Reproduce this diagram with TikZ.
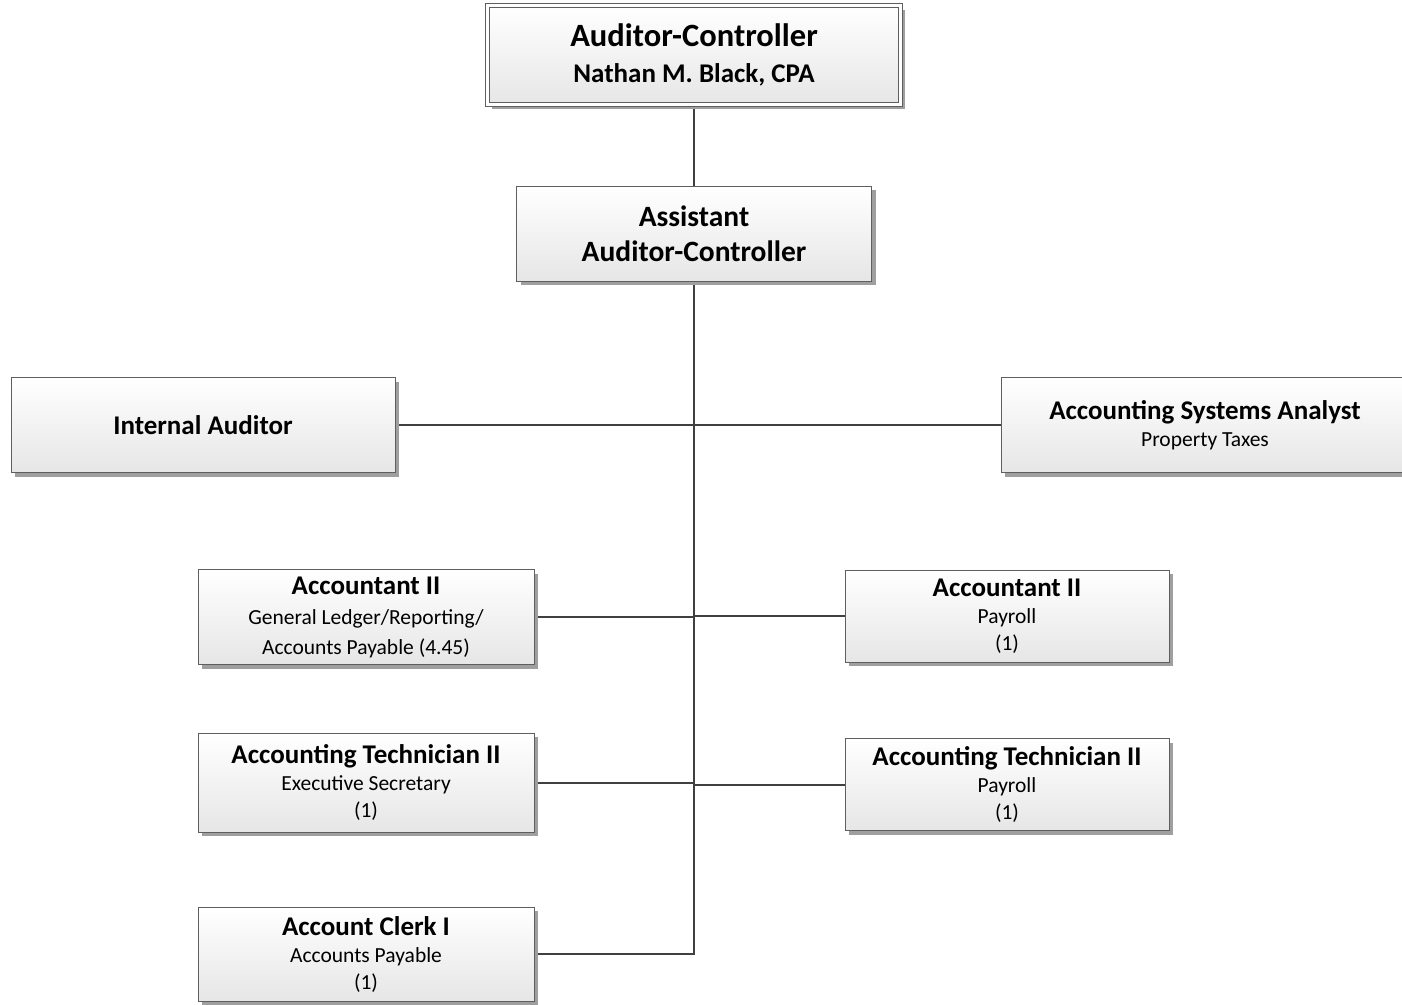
\documentclass[tikz,border=0pt]{standalone}
\usepackage{fontspec}
\setmainfont{Carlito}
\usepackage{tikz}
\usetikzlibrary{positioning, shadows, backgrounds}
\definecolor{linkgray}{HTML}{404040}
\definecolor{boxgray}{HTML}{5F5F5F}
\definecolor{shadegray}{HTML}{E6E6E6}
\newcommand{\ttl}[1]{{\bfseries\fontsize{27}{28}\selectfont #1}}

\begin{document}
\begin{tikzpicture}[
        x=1pt, y=-1pt,
        box/.style={draw=boxgray, line width=0.8pt, rectangle, inner sep=0pt, align=center,
            top color=white, bottom color=shadegray,
            drop shadow={shadow xshift=4pt, shadow yshift=-4pt, fill=gray!75, opacity=1},
            font=\fontsize{21.5}{27}\selectfont},
        wide/.style={box, minimum width=336pt, minimum height=95pt},
        narrow/.style={box, minimum width=324pt, minimum height=92pt},
        link/.style={draw=linkgray, line width=2pt}
    ]
        \useasboundingbox (0,0) rectangle (1402,1004);

        % Top
        \node[box, double=white, double distance=3pt, minimum width=413pt, minimum height=99pt,
              font=\bfseries\fontsize{27}{36}\selectfont] (ac) at (694,55)
            {{\fontsize{32.5}{36}\selectfont Auditor-Controller}\\ Nathan M. Black, CPA};
        \node[box, below=81pt of ac, minimum width=355pt, minimum height=95pt,
              font=\bfseries\fontsize{29.5}{35}\selectfont] (asst)
            {Assistant\\ Auditor-Controller};

        % Staff row
        \node[box, minimum width=384pt, minimum height=95pt] (ia) at (203,425) {\ttl{Internal Auditor}};
        \node[box, minimum width=408pt, minimum height=95pt] (asa) at (1205,425)
            {\ttl{Accounting Systems Analyst}\\ Property Taxes};

        % Left column
        \node[wide] (acc1) at (366,617)
            {\ttl{Accountant II}\\[3pt] General Ledger/Reporting/\\[3pt] Accounts Payable (4.45)};
        \node[wide, below=68pt of acc1, minimum height=99pt] (tech1)
            {\ttl{Accounting Technician II}\\ Executive Secretary\\ (1)};
        \node[wide, below=74pt of tech1, minimum height=94pt] (clerk)
            {\ttl{Account Clerk I}\\ Accounts Payable\\ (1)};

        % Right column
        \node[narrow] (acc2) at (1007,616) {\ttl{Accountant II}\\ Payroll\\ (1)};
        \node[narrow, below=76pt of acc2] (tech2) {\ttl{Accounting Technician II}\\ Payroll\\ (1)};

        % Connectors
        \begin{scope}[on background layer]
            \draw[link] (ac) -- (asst);
            \draw[link] (asst) |- (clerk);
            \draw[link] (ia) -- (asa);
            \draw[link] (acc1) -- (acc1 -| asst);
            \draw[link] (acc2) -- (acc2 -| asst);
            \draw[link] (tech1) -- (tech1 -| asst);
            \draw[link] (tech2) -- (tech2 -| asst);
        \end{scope}
    \end{tikzpicture}
\end{document}
